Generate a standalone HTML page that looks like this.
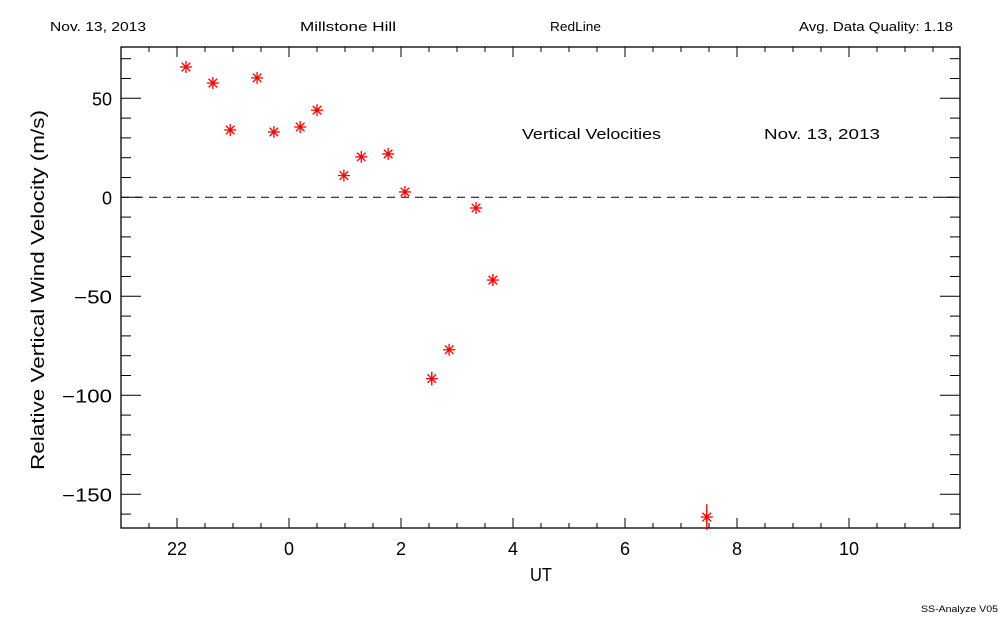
<!DOCTYPE html>
<html><head><meta charset="utf-8"><style>
body{margin:0;background:#fff;}
svg text{font-family:"Liberation Sans",sans-serif;fill:#000;}
</style></head><body>
<svg id="c" width="1000" height="625" xmlns="http://www.w3.org/2000/svg">
<text x="50" y="31" font-size="13" textLength="96" lengthAdjust="spacingAndGlyphs">Nov. 13, 2013</text>
<text x="300" y="31" font-size="13" textLength="96" lengthAdjust="spacingAndGlyphs">Millstone Hill</text>
<text x="550" y="31" font-size="13" textLength="51" lengthAdjust="spacingAndGlyphs">RedLine</text>
<text x="799" y="31" font-size="13" textLength="154" lengthAdjust="spacingAndGlyphs">Avg. Data Quality: 1.18</text>
<text x="522" y="139" font-size="15" textLength="139" lengthAdjust="spacingAndGlyphs">Vertical Velocities</text>
<text x="764" y="139" font-size="15" textLength="116" lengthAdjust="spacingAndGlyphs">Nov. 13, 2013</text>
<text x="530" y="581" font-size="18" textLength="22" lengthAdjust="spacingAndGlyphs">UT</text>
<text transform="translate(44,290) rotate(-90)" font-size="18" text-anchor="middle" textLength="360" lengthAdjust="spacingAndGlyphs">Relative Vertical Wind Velocity (m/s)</text>
<text x="921" y="612" font-size="9" textLength="77" lengthAdjust="spacingAndGlyphs">SS-Analyze V05</text>
<g id="axes"></g><g id="marks"></g>
</svg>
<script>
const hours=[-1.84,-1.36,-1.05,-0.57,-0.27,0.2,0.5,0.98,1.29,1.77,2.07,3.34,3.64,2.55,2.86,7.46];
const velocities=[65.8,57.7,34,60.3,33,35.5,44,11,20.4,21.9,2.7,-5.4,-41.8,-91.6,-77,-161.5];
const errors=[0,0,0,0,0,0,0,0,0,0,0,0,0,3.5,0,6.5];
const xTicks=[-2,0,2,4,6,8,10];
const xTickLabels=["22","0","2","4","6","8","10"];
const yTicks=[50,0,-50,-100,-150];
const yTickLabels=["50","0","\u221250","\u2212100","\u2212150"];
const L=121,R=960,T=47,B=528;
const X=h=>289+h*56;
const Y=v=>197.3-v*1.98;
const NS="http://www.w3.org/2000/svg";
function mk(tag,attrs,parent){const e=document.createElementNS(NS,tag);for(const k in attrs)e.setAttribute(k,attrs[k]);parent.appendChild(e);return e;}
const ax=document.getElementById('axes'),mg=document.getElementById('marks');
const frame=mk('rect',{x:L,y:T,width:R-L,height:B-T,fill:'none',stroke:'#000','stroke-width':1.3},ax);


const zl=mk('line',{x1:L,x2:R,y1:Y(0),y2:Y(0),stroke:'#000','stroke-dasharray':'8,6'},ax);


for(let h=-3;h<=12;h+=0.5){const x=X(h);if(x<=L+1||x>=R-1)continue;const major=Math.abs(h%2)===0;const len=major?10:5;
 const t1=mk('line',{x1:x,x2:x,y1:B,y2:B-len,stroke:'#000'},ax);
 const t2=mk('line',{x1:x,x2:x,y1:T,y2:T+len,stroke:'#000'},ax);}
xTicks.forEach((h,i)=>{const t=mk('text',{x:X(h),y:B+27,'font-size':18,'text-anchor':'middle'},ax);t.textContent=xTickLabels[i];
 });
for(let v=-160;v<=70;v+=10){const y=Y(v);if(y<=T+1||y>=B-1)continue;const major=v%50===0;const len=major?20:10;
 const t1=mk('line',{x1:L,x2:L+len,y1:y,y2:y,stroke:'#000'},ax);
 const t2=mk('line',{x1:R,x2:R-len,y1:y,y2:y,stroke:'#000'},ax);}
yTicks.forEach((v,i)=>{const t=mk('text',{x:112,y:Y(v)+7,'font-size':18,'text-anchor':'end'},ax);t.textContent=yTickLabels[i];
 if(v<0){t.setAttribute('textLength',v<=-100?50:38);t.setAttribute('lengthAdjust','spacingAndGlyphs');}
 });
hours.forEach((h,i)=>{const cx=X(h),cy=Y(velocities[i]);const g=mk('g',{stroke:'#f00','stroke-width':1.3},mg);
 
 
 const r=6,d=4.3;
 mk('line',{x1:cx-r,x2:cx+r,y1:cy,y2:cy},g);mk('line',{x1:cx,x2:cx,y1:cy-r,y2:cy+r},g);
 mk('line',{x1:cx-d,x2:cx+d,y1:cy-d,y2:cy+d},g);mk('line',{x1:cx-d,x2:cx+d,y1:cy+d,y2:cy-d},g);
 if(errors[i]>0){const e=mk('line',{x1:cx,x2:cx,y1:Y(velocities[i]+errors[i]),y2:Y(velocities[i]-errors[i])},g);
  }
 mk('circle',{cx:cx,cy:cy,r:1.6,fill:'#f00',stroke:'none'},g);});
</script>
</body></html>
